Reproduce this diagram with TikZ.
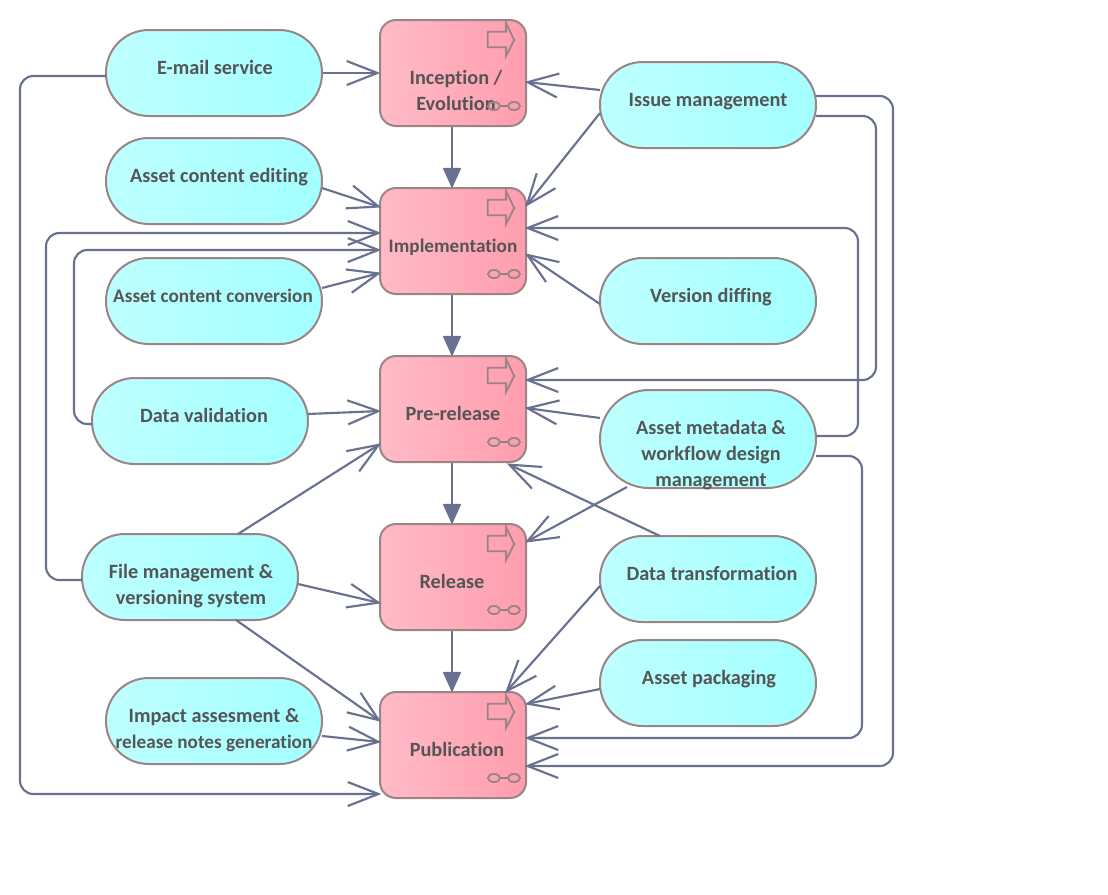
\documentclass[tikz,border=0pt]{standalone}
\usepackage{fontspec}
\setmainfont[Ligatures=NoCommon]{Carlito}
\usetikzlibrary{arrows.meta,calc}
\definecolor{edgeblue}{HTML}{687290}
\definecolor{bordergrey}{HTML}{9A8486}
\definecolor{labelgrey}{HTML}{555555}
\definecolor{pinkA}{HTML}{FFBBC7}
\definecolor{pinkB}{HTML}{FFC0CC}
\definecolor{pinkC}{HTML}{FF9DAE}
\definecolor{cyanA}{HTML}{BEFFFF}
\definecolor{cyanB}{HTML}{BFFFFF}
\definecolor{cyanC}{HTML}{A3FFFF}
\newcommand{\narrowtext}{\fontsize{14.4}{19.5}\selectfont}
\tikzset{
  procbox/.style={draw=bordergrey,line width=1.5pt,rounded corners=12pt,minimum width=109.5pt,minimum height=79.5pt,inner sep=0pt,left color=pinkA,middle color=pinkB,right color=pinkC},
  pill/.style={draw=bordergrey,line width=1.5pt,rounded corners=32pt,minimum width=162pt,minimum height=64.5pt,inner sep=0pt,left color=cyanA,middle color=cyanB,right color=cyanC},
  tallpill/.style={pill,rounded corners=36.7pt,minimum height=73.5pt},
  lab/.style={inner sep=0pt,align=center,text=labelgrey,font=\fontsize{15.2}{19.5}\selectfont\bfseries},
  icon/.style={draw=bordergrey,line width=1.4pt},
  link/.style={draw=edgeblue,line width=1.6pt,rounded corners=10pt,shorten >=-1pt,-{Straight Barb[length=23pt,width=18pt,line width=1.6pt]}},
  flow/.style={draw=edgeblue,line width=1.6pt,shorten >=-1.2pt,-{Triangle[length=15.5pt,width=13.5pt]}}
}
\newcommand{\boxicons}[2]{%
  \begin{scope}[shift={(#1,#2)}]
    \draw[icon,fill=none,line join=miter] (34.7,-41.3) -- (53,-41.3) -- (53,-49.7) -- (61.3,-33) -- (53,-17) -- (53,-25.7) -- (34.7,-25.7) -- cycle;
    \draw[icon,fill=none] (41,33) ellipse (6 and 4);
    \draw[icon,fill=none] (61,33) ellipse (6 and 4);
    \draw[icon] (47,33) -- (55,33);
  \end{scope}}
\begin{document}
\begin{tikzpicture}[x=0.75pt,y=-0.75pt]
\path[use as bounding box] (0,0) rectangle (1108,894);
% process boxes
\node[procbox] (inc) at (453,73) {};
\node[procbox] (impl) at (453,241) {};
\node[procbox] (pre) at (453,409) {};
\node[procbox] (rel) at (453,577) {};
\node[procbox] (pub) at (453,745) {};
% pills
\node[pill] (mail) at (214,73) {};
\node[pill] (edit) at (214,181) {};
\node[pill] (conv) at (214,301) {};
\node[pill] (val) at (200,421) {};
\node[pill] (file) at (190,577) {};
\node[pill] (impa) at (214,721) {};
\node[pill] (issue) at (708,105) {};
\node[pill] (diff) at (708,301) {};
\node[tallpill] (meta) at (708,439) {};
\node[pill] (trans) at (708,579) {};
\node[pill] (pack) at (708,683) {};
% labels
\node[lab] (tinc) at (456,92) {\strut Inception /\\\strut Evolution};
\node[lab] (timpl) at (453,247) {\narrowtext\strut Implementation};
\node[lab] (tpre) at (453,415) {\strut Pre-release};
\node[lab] (trel) at (452,583) {\strut Release};
\node[lab] (tpub) at (457,751) {\strut Publication};
\node[lab] (tmail) at (215,69) {\strut E-mail service};
\node[lab] (tedit) at (219,177) {\strut Asset content editing};
\node[lab] (tconv) at (213,297) {\narrowtext\strut Asset content conversion};
\node[lab] (tval) at (204,417) {\strut Data validation};
\node[lab] (tfile) at (191,586) {\strut File management \&\\\strut versioning system};
\node[lab] (timpa) at (214,730) {\strut Impact assesment \&\\\narrowtext\strut release notes generation};
\node[lab] (tissue) at (708,101) {\strut Issue management};
\node[lab] (tdiff) at (711,297) {\strut Version diffing};
\node[lab] (tmeta) at (711,455) {\strut Asset metadata \&\\\strut workflow design\\\strut management};
\node[lab] (ttrans) at (712,575) {\strut Data transformation};
\node[lab] (tpack) at (709,679) {\strut Asset packaging};
% icons
\boxicons{453}{73}
\boxicons{453}{241}
\boxicons{453}{409}
\boxicons{453}{577}
\boxicons{453}{745}
% flow arrows
\draw[flow] ($(inc.south)+(-1,0)$) -- ($(impl.north)+(-1,0)$);
\draw[flow] ($(impl.south)+(-1,0)$) -- ($(pre.north)+(-1,0)$);
\draw[flow] ($(pre.south)+(-1,0)$) -- ($(rel.north)+(-1,0)$);
\draw[flow] ($(rel.south)+(-1,0)$) -- ($(pub.north)+(-1,0)$);
% straight connectors
\draw[link] (mail.east) -- (inc.west);
\draw[link] ($(issue.center)+(-108,-15)$) -- ($(inc.center)+(73,9)$);
\draw[link] ($(issue.center)+(-108,8)$) -- ($(impl.center)+(73,-35)$);
\draw[link] ($(edit.center)+(108,7)$) -- ($(impl.center)+(-73,-34)$);
\draw[link] ($(conv.center)+(108,-13)$) -- ($(impl.center)+(-73,32)$);
\draw[link] ($(diff.center)+(-108,3)$) -- ($(impl.center)+(73,13)$);
\draw[link] ($(meta.center)+(-108,-21)$) -- ($(pre.center)+(73,-1)$);
\draw[link] ($(meta.center)+(-81,48)$) -- ($(rel.center)+(73,-35)$);
\draw[link] ($(val.center)+(108,-7)$) -- ($(pre.center)+(-73,2)$);
\draw[link] ($(file.center)+(48,-43)$) -- ($(pre.center)+(-73,35)$);
\draw[link] ($(file.center)+(108,7)$) -- ($(rel.center)+(-73,26)$);
\draw[link] ($(file.center)+(46,43)$) -- ($(pub.center)+(-73,-24)$);
\draw[link] ($(trans.center)+(-48,-43)$) -- ($(pre.center)+(55,55)$);
\draw[link] ($(trans.center)+(-108,7)$) -- ($(pub.center)+(53,-53)$);
\draw[link] ($(pack.center)+(-108,6)$) -- ($(pub.center)+(73,-41)$);
\draw[link] ($(impa.center)+(108,15)$) -- ($(pub.center)+(-73,-3)$);
% routed connectors
\draw[link] ($(issue.center)+(108,-9)$) -- (893,96) -- (893,766) -- ($(pub.center)+(73,21)$);
\draw[link] ($(issue.center)+(108,11)$) -- (876,116) -- (876,380) -- ($(pre.center)+(73,-29)$);
\draw[link] ($(meta.center)+(108,-3)$) -- (858,436) -- (858,228) -- ($(impl.center)+(73,-13)$);
\draw[link] ($(meta.center)+(108,17)$) -- (862,456) -- (862,738) -- ($(pub.center)+(73,-7)$);
\draw[link] ($(file.center)+(-108,3)$) -- (46,580) -- (46,233) -- ($(impl.center)+(-73,-8)$);
\draw[link] ($(val.center)+(-108,3)$) -- (74,424) -- (74,250) -- ($(impl.center)+(-73,9)$);
\draw[link] ($(mail.center)+(-108,3)$) -- (20,76) -- (20,794) -- ($(pub.center)+(-73,49)$);
\end{tikzpicture}
\end{document}
